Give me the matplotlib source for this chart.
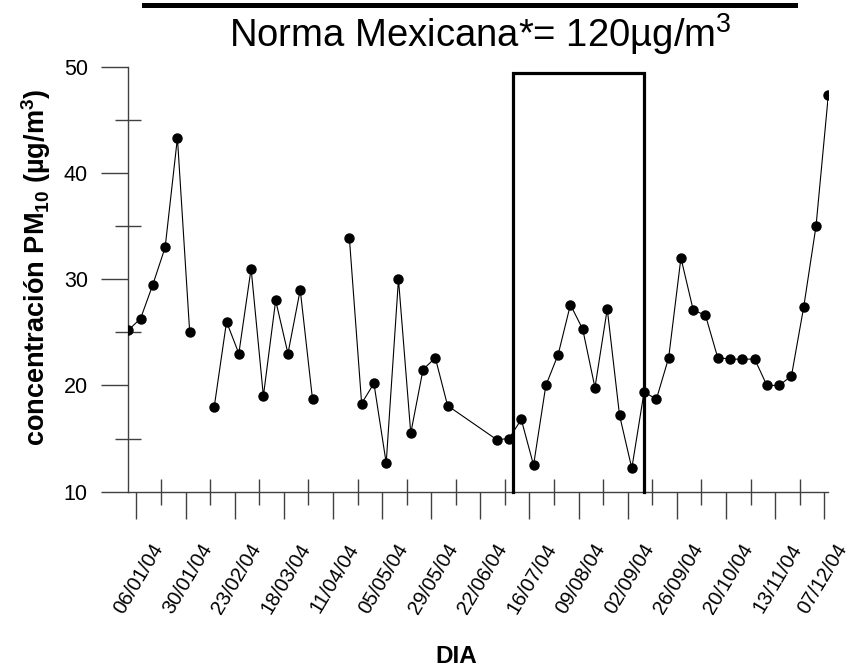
import numpy as np
import pandas as pd
import matplotlib
matplotlib.use("Agg")
import matplotlib.pyplot as plt
import matplotlib.transforms as mtransforms
from matplotlib.lines import Line2D

plt.rcParams['font.family'] = ['Liberation Sans', 'DejaVu Sans']
plt.rcParams['mathtext.fontset'] = 'custom'
plt.rcParams['mathtext.rm'] = 'Liberation Sans'
plt.rcParams['mathtext.it'] = 'Liberation Sans:italic'
plt.rcParams['mathtext.bf'] = 'Liberation Sans:bold'

# ---- data ----
fecha_inicio = "2004-01-02"     # first sample, one sample every 6 days
fecha_fin = "2004-12-09"
pm10 = [25.2, 26.3, 29.5, 33.0, 43.3, 25.0, None, 18.0, 26.0, 23.0,
        31.0, 19.0, 28.0, 23.0, 29.0, 18.7, None, None, 33.9, 18.3,
        20.2, 12.7, 30.0, 15.5, 21.5, 22.6, 18.1, None, None, None,
        14.9, 15.0, 16.8, 12.5, 20.0, 22.9, 27.6, 25.3, 19.8, 27.2,
        17.2, 12.2, 19.4, 18.7, 22.6, 32.0, 27.1, 26.6, 22.6, 22.5,
        22.45, 22.5, 20.0, 20.0, 20.9, 27.4, 35.0, 47.3]
sin_muestreo_conectado = [27, 28, 29]   # missing samples bridged by the line
etiquetas_x = ["06/01/04", "30/01/04", "23/02/04", "18/03/04", "11/04/04",
               "05/05/04", "29/05/04", "22/06/04", "16/07/04", "09/08/04",
               "02/09/04", "26/09/04", "20/10/04", "13/11/04", "07/12/04"]
y_mayores = [10, 20, 30, 40, 50]
y_menores = [15, 25, 35, 45]
caja_inicio = "2004-07-08"
caja_fin = "2004-09-10"
caja_tope = 49.4
titulo = "Norma Mexicana*= 120µg/m$^3$"
etiqueta_y = r"concentración PM$_{\mathbf{10}}$ (µg/m$^{\mathbf{3}}$)"
etiqueta_x = "DIA"

# ---- figure ----
fig = plt.figure(figsize=(8.49, 6.67), dpi=100)
W, H = 849, 667
ax = fig.add_axes([128.3 / W, 1 - 491.7 / H, 700 / W, 425 / H])

fechas = pd.date_range(fecha_inicio, periods=len(pm10), freq="6D")
serie = pd.Series([np.nan if v is None else v for v in pm10], index=fechas, dtype=float)
linea = serie.drop(serie.index[sin_muestreo_conectado])

ax.plot(linea.index, linea.values, color='black', lw=0.8, zorder=3)
ax.plot(serie.index, serie.values, 'o', color='black', ms=6.5, ls='none', zorder=4)

x0 = pd.Timestamp(caja_inicio)
x1 = pd.Timestamp(caja_fin)
ax.plot([x0, x0, x1, x1], [10, caja_tope, caja_tope, 10], color='black', lw=2.3,
        solid_joinstyle='miter', clip_on=False, zorder=5)

ax.set_xlim(pd.Timestamp(fecha_inicio), pd.Timestamp(fecha_fin))
ax.set_ylim(10, 50)

fechas_etq = pd.to_datetime(etiquetas_x, format="%d/%m/%y")
ax.set_xticks(fechas_etq)
ax.set_xticklabels(etiquetas_x)
menores_x = fechas_etq[:-1] + pd.Timedelta(days=12)
ax.set_xticks(menores_x, minor=True)
ax.set_yticks(y_mayores)
ax.set_yticks(y_menores, minor=True)

for s in ['top', 'right']:
    ax.spines[s].set_visible(False)
for s in ['left', 'bottom']:
    ax.spines[s].set_color('#404040')
    ax.spines[s].set_linewidth(1.0)

ax.tick_params(axis='both', which='major', direction='out', length=19.2, width=1,
               color='#404040', labelsize=15.5)
ax.tick_params(axis='x', which='major', labelsize=14.5)
ax.tick_params(axis='both', which='minor', direction='inout', length=18.7, width=1,
               color='#404040')
ax.tick_params(axis='x', which='major', pad=15.6)
ax.tick_params(axis='y', which='major', pad=10)
etiquetas = ax.get_xticklabels()
for i, lbl in enumerate(etiquetas):
    dx = 2 if i < len(etiquetas) - 1 else -2
    lbl.set_rotation(59)
    lbl.set_ha('center')
    lbl.set_transform(lbl.get_transform() +
                      mtransforms.ScaledTranslation(dx / 100, 0, fig.dpi_scale_trans))

# top bar and title
fig.add_artist(Line2D([144 / W, 795 / W], [1 - 5.3 / H, 1 - 5.3 / H], color='black', lw=3.6))
fig.text(229.3 / W, 1 - 47 / H, titulo, fontsize=27.5, ha='left', va='baseline')

fig.text(36 / W, 1 - 267.5 / H, etiqueta_y, rotation=90, fontsize=19.5,
         fontweight='bold', ha='center', va='center')
fig.text(456 / W, 1 - 663 / H, etiqueta_x, fontsize=17.5, fontweight='bold',
         ha='center', va='baseline')

fig.savefig("out.png", dpi=100)
